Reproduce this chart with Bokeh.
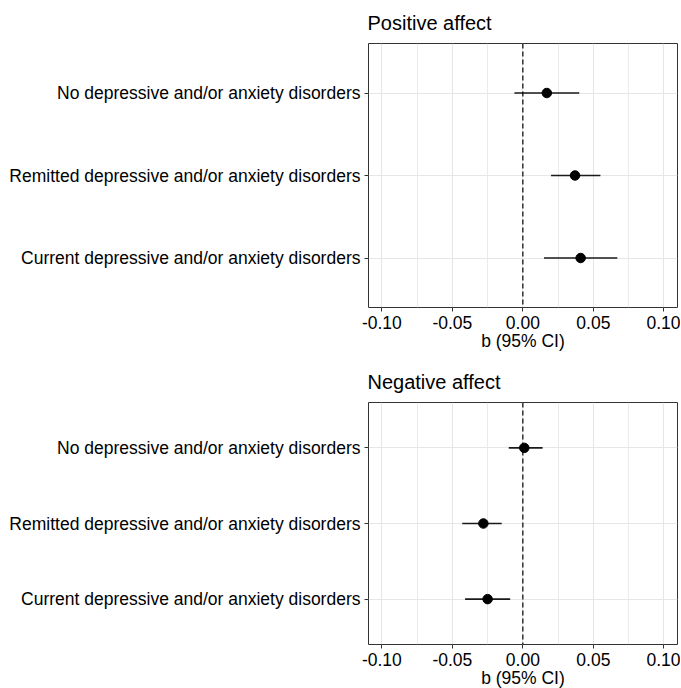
from bokeh.plotting import figure
from bokeh.layouts import column
from bokeh.models import FactorRange, Range1d, FixedTicker, Span, NumeralTickFormatter, ColumnDataSource
from bokeh.embed import file_html
from bokeh.resources import INLINE

categories = [
    "No depressive and/or anxiety disorders",
    "Remitted depressive and/or anxiety disorders",
    "Current depressive and/or anxiety disorders",
]
pos_b = [0.017, 0.037, 0.041]
pos_lo = [-0.006, 0.020, 0.015]
pos_hi = [0.040, 0.055, 0.067]
neg_b = [0.001, -0.028, -0.025]
neg_lo = [-0.010, -0.043, -0.041]
neg_hi = [0.014, -0.015, -0.009]
x_ticks = [-0.10, -0.05, 0.00, 0.05, 0.10]
x_minor = [-0.075, -0.025, 0.025, 0.075]
x_label = "b (95% CI)"
FONT = "Liberation Sans"


def panel(title, b, lo, hi, frame_h, top, bottom):
    p = figure(
        y_range=FactorRange(*reversed(categories), range_padding=0.1, range_padding_units="absolute"),
        x_range=Range1d(-0.1095, 0.1097),
        frame_width=309, frame_height=frame_h,
        min_border_left=368, min_border_right=3, min_border_top=top, min_border_bottom=bottom,
        output_backend="svg", toolbar_location=None, title=title,
    )
    p.title.text_font = FONT
    p.title.text_font_size = "20px"
    p.title.text_font_style = "normal"
    p.title.text_color = "black"
    p.title.align = "left"
    p.title.offset = -1
    p.title.standoff = 19

    p.outline_line_color = "#333333"
    p.outline_line_width = 1
    p.background_fill_color = "white"
    p.border_fill_color = "white"

    p.xaxis.ticker = FixedTicker(ticks=x_ticks, minor_ticks=x_minor)
    p.xaxis.formatter = NumeralTickFormatter(format="0.00")
    p.xaxis.axis_label = x_label
    p.xaxis.axis_label_text_font = FONT
    p.xaxis.axis_label_text_font_size = "17.5px"
    p.xaxis.axis_label_text_font_style = "normal"
    p.xaxis.axis_label_text_color = "black"
    p.xaxis.axis_label_standoff = -1
    for ax in (p.xaxis, p.yaxis):
        ax.axis_line_color = None
        ax.major_tick_line_color = "#333333"
        ax.major_tick_out = 4
        ax.major_tick_in = 0
        ax.minor_tick_line_color = None
        ax.major_label_text_font = FONT
        ax.major_label_text_font_size = "17.5px"
        ax.major_label_text_color = "black"
        ax.major_label_standoff = 4

    p.xgrid.grid_line_color = "#E6E6E6"
    p.xgrid.grid_line_width = 1.1
    p.xgrid.minor_grid_line_color = "#E6E6E6"
    p.xgrid.minor_grid_line_width = 0.8
    p.ygrid.grid_line_color = "#E6E6E6"
    p.ygrid.grid_line_width = 1.1

    p.add_layout(Span(location=0, dimension="height", line_color="black",
                      line_width=1.2, line_dash="5 3"))
    src = ColumnDataSource(dict(cat=categories, b=b, lo=lo, hi=hi))
    p.segment(x0="lo", y0="cat", x1="hi", y1="cat", source=src,
              line_color="#1a1a1a", line_width=1.7)
    p.scatter(x="b", y="cat", source=src, size=9.5, fill_color="black", line_color="black")
    return p


p1 = panel("Positive affect", pos_b, pos_lo, pos_hi, 264, 42, 51)
p2 = panel("Negative affect", neg_b, neg_lo, neg_hi, 242, 44, 36)
layout = column(p1, p2, spacing=0)

open("out.html", "w").write(file_html(layout, INLINE))
